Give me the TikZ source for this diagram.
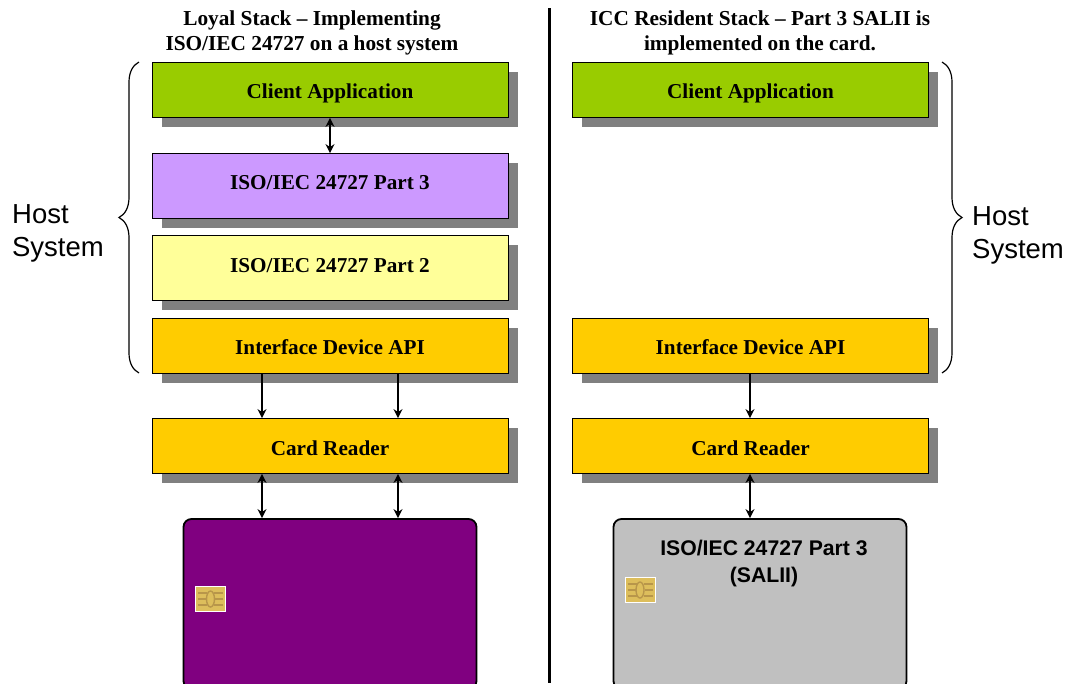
\documentclass[tikz,border=0pt]{standalone}
\usepackage{fontspec}
\setmainfont{Liberation Serif}
\newfontfamily\armfont{Liberation Sans}
\usepackage{tikz}
\usetikzlibrary{positioning,shadows,arrows.meta,decorations.pathreplacing}
\definecolor{appgreen}{HTML}{99CC00}
\definecolor{partpurple}{HTML}{CC99FF}
\definecolor{partyellow}{HTML}{FFFF99}
\definecolor{apigold}{HTML}{FFCC00}
\definecolor{cardpurple}{HTML}{800080}
\definecolor{cardgrey}{HTML}{C0C0C0}
\definecolor{chipgold}{HTML}{DDBE5C}
\definecolor{chipline}{HTML}{B8964A}
\newcommand{\layertext}[2]{\raisebox{#1}[0pt][0pt]{#2}}
\tikzset{
  x=1pt,y=-1pt,
  layer/.style={draw=black,line width=0.8pt,minimum width=356pt,inner sep=0pt,align=center,
    font=\bfseries\fontsize{21.2}{24}\selectfont,
    drop shadow={shadow xshift=9.5pt,shadow yshift=-9pt,fill=black!50,opacity=1}},
  smartcard/.style={draw=black,line width=1.8pt,rounded corners=8pt,minimum width=293pt,minimum height=170pt},
  chip/.style={draw=white,line width=1pt,fill=chipgold,minimum width=30pt,minimum height=25pt,inner sep=0pt},
  chipmark/.style={draw=chipline,line width=1.4pt},
  link/.style={draw=black,line width=1.5pt,{Stealth[length=9pt,width=9pt]}-{Stealth[length=9pt,width=9pt]}},
  oneway/.style={draw=black,line width=1.5pt,-{Stealth[length=9pt,width=9pt]}},
  heading/.style={align=center,font=\bfseries\fontsize{21.3}{25}\selectfont},
  hostlabel/.style={align=left,font=\armfont\fontsize{27.5}{33}\selectfont},
  hostbrace/.style={draw=black,line width=1.2pt,decorate}
}
\begin{document}
\begin{tikzpicture}
\useasboundingbox (0,0) rectangle (1066,683);
% left stack
\node[heading] (headL) at (312,33) {Loyal Stack -- Implementing\\ISO/IEC 24727 on a host system};
\node[layer,fill=appgreen,minimum height=55pt] (clientL) at (330,90) {\layertext{-8pt}{Client Application}};
\node[layer,fill=partpurple,minimum height=65pt] (partthree) at (330,186) {\layertext{-3pt}{ISO/IEC 24727 Part 3}};
\node[layer,fill=partyellow,minimum height=65pt] (parttwo) at (330,268) {\layertext{-4pt}{ISO/IEC 24727 Part 2}};
\node[layer,fill=apigold,minimum height=55pt] (apiL) at (330,346) {\layertext{-8pt}{Interface Device API}};
\node[layer,fill=apigold,minimum height=55pt] (readerL) at (330,446) {\layertext{-9pt}{Card Reader}};
% right stack
\node[heading] (headR) at (760,33) {ICC Resident Stack -- Part 3 SALII is\\implemented on the card.};
\node[layer,fill=appgreen,minimum height=55pt] (clientR) at (750.5,90) {\layertext{-8pt}{Client Application}};
\node[layer,fill=apigold,minimum height=55pt] (apiR) at (750.5,346) {\layertext{-8pt}{Interface Device API}};
\node[layer,fill=apigold,minimum height=55pt] (readerR) at (750.5,446) {\layertext{-9pt}{Card Reader}};
% cards
\node[smartcard,fill=cardpurple] (cardL) at (330,604) {};
\node[chip] (chipL) at (210.5,599) {};
\draw[chipmark] ([xshift=3pt]chipL.west) -- +(8,0) ([xshift=-3pt]chipL.east) -- +(-8,0)
  ([shift={(3pt,-6pt)}]chipL.west) -- +(9,0) ([shift={(-3pt,-6pt)}]chipL.east) -- +(-9,0)
  ([shift={(3pt,6pt)}]chipL.west) -- +(9,0) ([shift={(-3pt,6pt)}]chipL.east) -- +(-9,0);
\draw[chipmark] (chipL.center) ellipse (4 and 8);
\node[smartcard,fill=cardgrey] (cardR) at (760,604) {};
\node[chip] (chipR) at (640,590) {};
\draw[chipmark] ([xshift=3pt]chipR.west) -- +(8,0) ([xshift=-3pt]chipR.east) -- +(-8,0)
  ([shift={(3pt,-6pt)}]chipR.west) -- +(9,0) ([shift={(-3pt,-6pt)}]chipR.east) -- +(-9,0)
  ([shift={(3pt,6pt)}]chipR.west) -- +(9,0) ([shift={(-3pt,6pt)}]chipR.east) -- +(-9,0);
\draw[chipmark] (chipR.center) ellipse (4 and 8);
\node[align=center,font=\armfont\bfseries\fontsize{21.2}{27}\selectfont] (salii) at (764,564) {ISO/IEC 24727 Part 3\\(SALII)};
% connectors
\draw[link] (clientL.south) -- (partthree.north);
\draw[oneway] (apiL.south -| 262,0) -- (readerL.north -| 262,0);
\draw[oneway] (apiL.south -| 398,0) -- (readerL.north -| 398,0);
\draw[oneway] (apiR.south -| 750,0) -- (readerR.north -| 750,0);
\draw[link] (readerL.south -| 262,0) -- (cardL.north -| 262,0);
\draw[link] (readerL.south -| 398,0) -- (cardL.north -| 398,0);
\draw[link] (readerR.south -| 750,0) -- (cardR.north -| 750,0);
% divider
\coordinate (divtop) at (549.5,8);
\coordinate (divbot) at (549.5,683);
\draw[line width=3.5pt] (divtop) -- (divbot);
% host braces
\coordinate (braceLt) at (139,62);
\coordinate (braceLb) at (139,373);
\coordinate (braceRt) at (942,62);
\coordinate (braceRb) at (942,373);
\draw[hostbrace,decoration={brace,amplitude=20pt}] (braceLb) -- (braceLt);
\draw[hostbrace,decoration={brace,amplitude=20pt}] (braceRt) -- (braceRb);
\node[hostlabel] (hostL) at (58,233) {Host\\System};
\node[hostlabel] (hostR) at (1018,235) {Host\\System};
\end{tikzpicture}
\end{document}
